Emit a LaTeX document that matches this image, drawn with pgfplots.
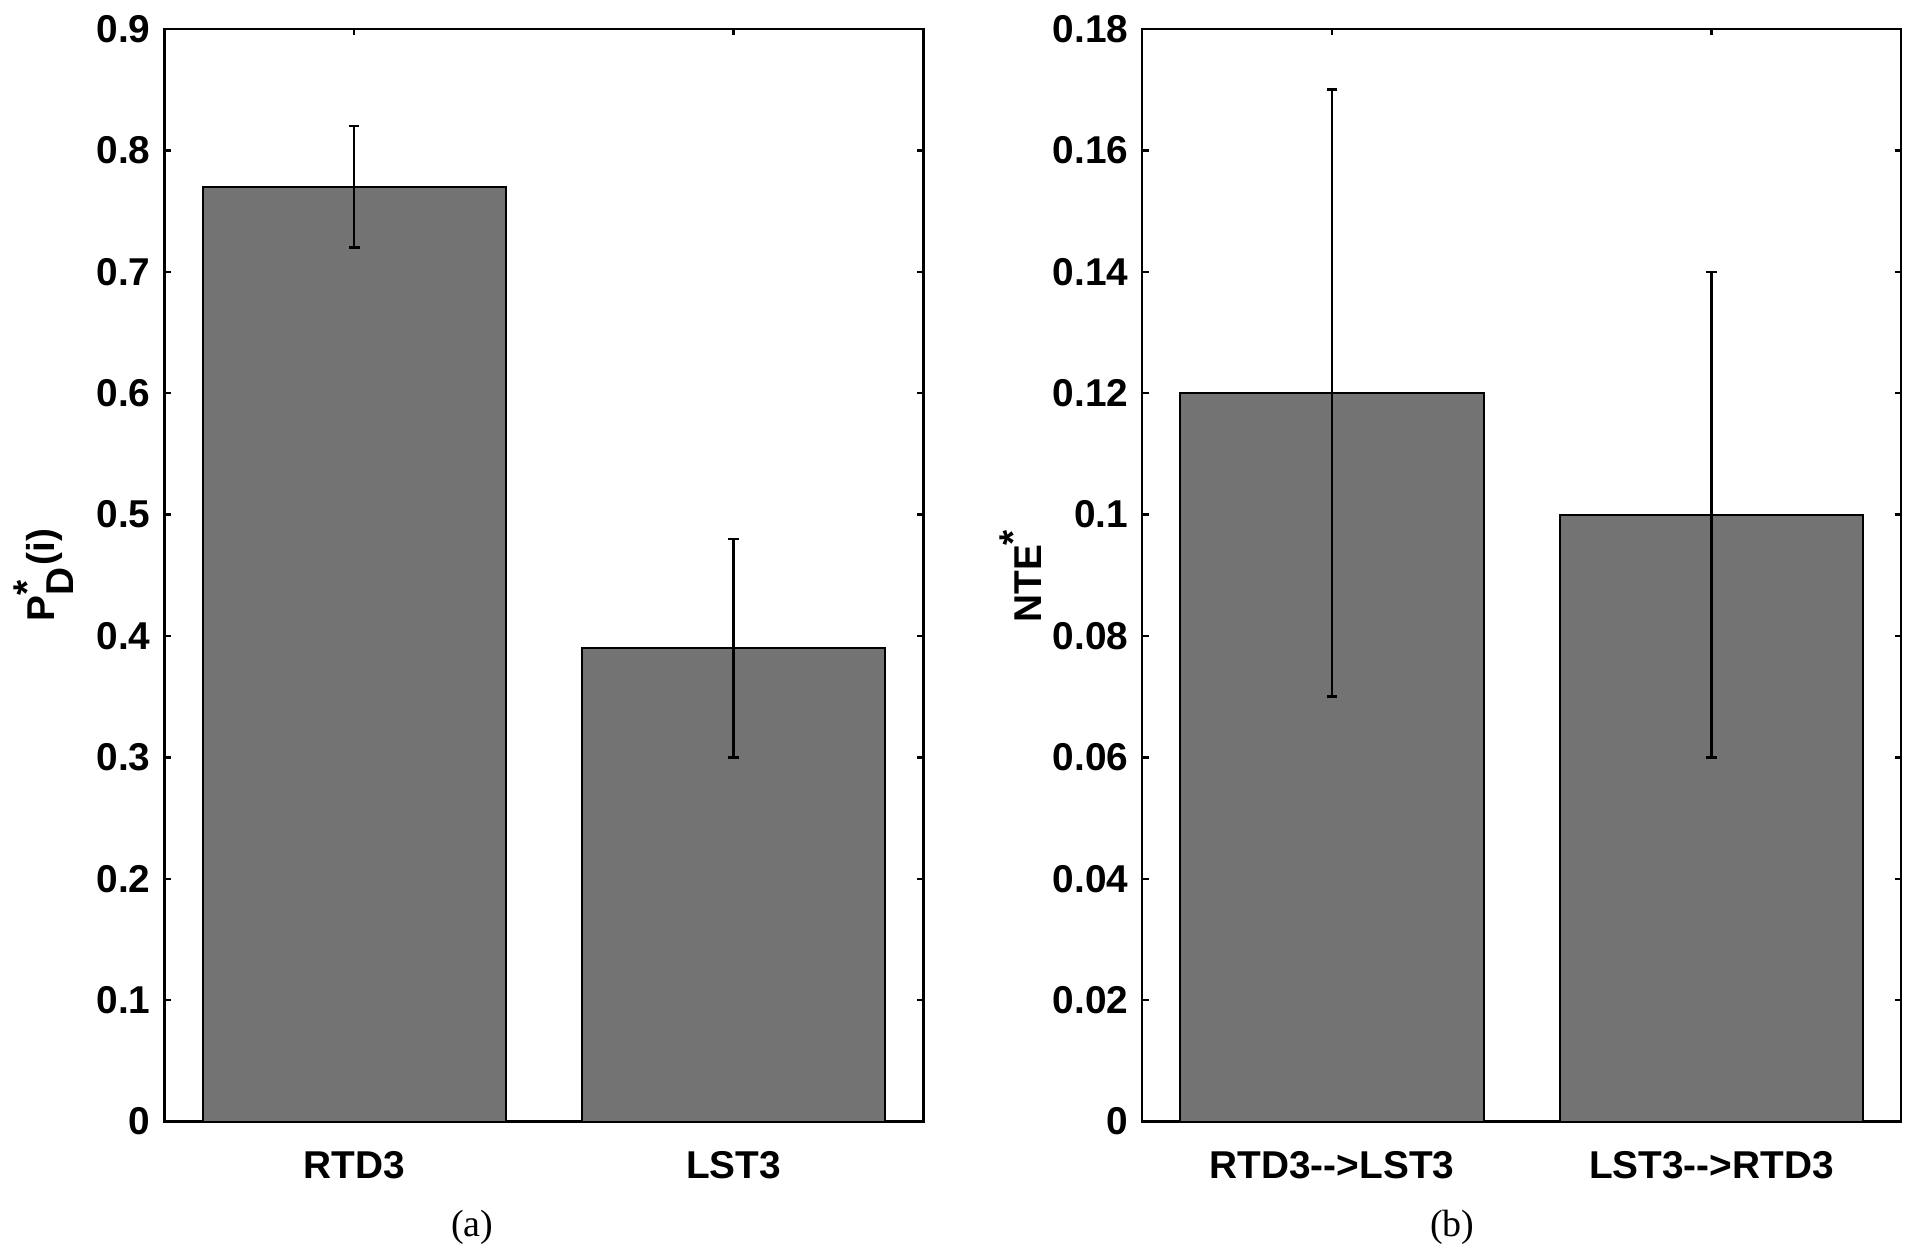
\documentclass[border=0pt]{standalone}
\usepackage{pgfplots}
\pgfplotsset{compat=1.18}
\usepackage{fontspec}
\setmainfont{Liberation Sans}
\newfontfamily\capfont{Liberation Serif}
\definecolor{bargray}{RGB}{115,115,115}
\pgfplotsset{
  mystyle/.style={
    scale only axis,
    width=189.75pt, height=273.25pt,
    xmin=0.5, xmax=2.5, ymin=0,
    xtick={1,2},
    tick align=inside,
    major tick length=1.6pt,
    axis line style={black, line width=0.6pt},
    every tick/.style={black, line width=0.6pt},
    tick label style={font=\fontsize{9.7}{11}\selectfont\bfseries},
    xticklabel style={yshift=-4pt},
    ylabel style={at={(axis description cs:-0.16,0.5)}, anchor=center, font=\fontsize{9.7}{11}\selectfont\bfseries},
    /pgf/number format/assume math mode=true,
  },
  mybar/.style={
    ybar, bar width=0.8, fill=bargray, draw=black, line width=0.5pt,
    error bars/.cd, y dir=both, y explicit,
    error mark=|,
    error bar style={black, line width=0.6pt},
    error mark options={black, mark size=1.3pt, line width=0.6pt},
  }
}
\begin{document}
\begin{tikzpicture}
\path (0,0) rectangle (480pt,314.5pt);
\begin{axis}[mystyle, at={(41pt,34pt)}, anchor=south west,
  ymax=0.9,
  ytick={0,0.1,0.2,0.3,0.4,0.5,0.6,0.7,0.8,0.9},
  yticklabels={0,0.1,0.2,0.3,0.4,0.5,0.6,0.7,0.8,0.9},
  xticklabels={RTD3,LST3},
  ylabel={P$^{\textbf{*}}_{\textbf{D}}$(i)}]
\addplot[mybar] coordinates {(1,0.77) +- (0,0.05) (2,0.39) +- (0,0.09)};
\end{axis}
\begin{axis}[mystyle, at={(285.5pt,34pt)}, anchor=south west,
  ymax=0.18,
  ytick={0,0.02,0.04,0.06,0.08,0.1,0.12,0.14,0.16,0.18},
  yticklabels={0,0.02,0.04,0.06,0.08,0.1,0.12,0.14,0.16,0.18},
  xticklabels={RTD3-{}->LST3,LST3-{}->RTD3},
  ylabel={NTE$^{\textbf{*}}$}]
\addplot[mybar] coordinates {(1,0.12) +- (0,0.05) (2,0.10) +- (0,0.04)};
\end{axis}
\node[font=\capfont\fontsize{9.5}{11}\selectfont] at (117.9pt,7.5pt) {(a)};
\node[font=\capfont\fontsize{9.5}{11}\selectfont] at (363pt,7.5pt) {(b)};
\end{tikzpicture}
\end{document}
